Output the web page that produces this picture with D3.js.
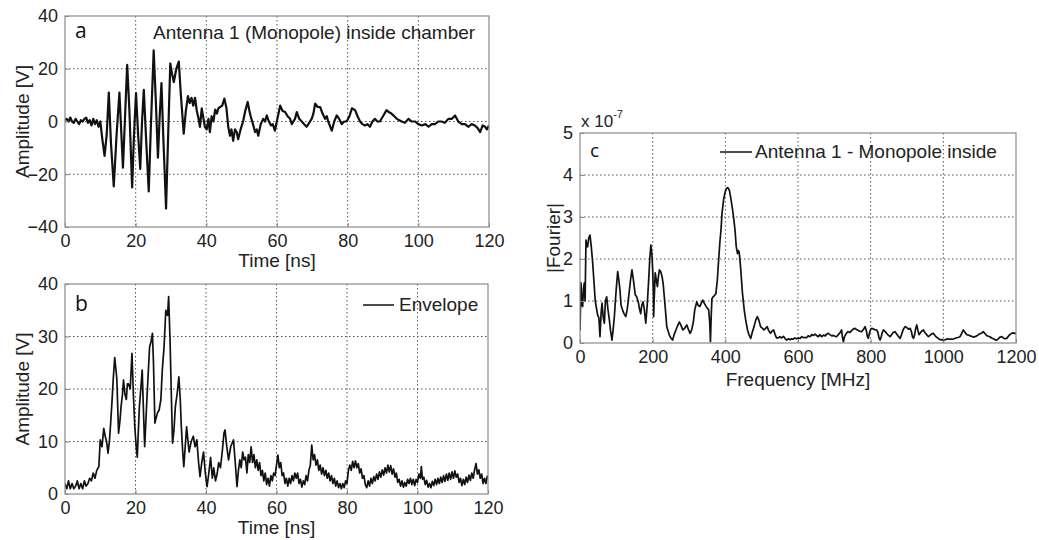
<!DOCTYPE html>
<html>
<head>
<meta charset="utf-8">
<script src="https://cdn.jsdelivr.net/npm/d3@7"></script>
<style>
body { margin: 0; background: #fff; }
svg { display: block; font-family: Arial, "Liberation Sans", sans-serif; }
</style>
</head>
<body>
<svg width="1039" height="540"></svg>
<script>
// ---- panel a : raw signal (time in ns, amplitude in V)
const timeA = [0,0.5,1,1.5,2,2.5,3,3.5,4,4.5,5,5.5,6,6.5,7,7.5,8,8.5,9,9.5,10,10.5,11.2,11.8,12.4,13,13.8,14.6,15.4,16.4,17,17.6,18.2,19,19.5,20.1,20.7,21.3,21.8,22.3,23,23.7,24.3,25.1,25.7,26.3,26.8,27.3,27.8,28.6,29.2,29.8,30.3,30.8,31.5,32.2,32.8,33.6,34.2,34.8,35.3,35.8,36.3,36.8,37.3,37.7,38.2,38.7,39.2,39.6,40.1,40.6,41,41.5,42,42.5,43,43.4,43.9,44.5,45.1,45.7,46.2,46.7,47.1,47.6,48.1,48.6,49,49.7,50.4,51,51.7,52.2,52.6,53.2,53.8,54.3,54.7,55.4,56.1,56.6,57.1,57.7,58.3,58.8,59.4,60.1,60.9,61.6,62.3,63,63.7,64.2,64.6,65.1,65.6,66.3,67,67.7,68.4,69.1,69.8,70.3,70.8,71.5,72.2,72.9,73.6,74.1,74.5,75.5,76.2,76.9,77.6,78.3,79,79.7,80.5,81.2,82.1,82.8,83.5,84.2,84.9,85.6,86.3,87,87.7,88.4,89.1,90,91,91.7,92.4,93.2,93.9,94.6,95.3,96.2,97.2,98.1,99.1,100,101,102,102.9,103.8,104.7,105.6,106.6,107.5,108.5,109.5,110.4,111.3,112.3,113.2,114.2,115.1,116,116.8,117.5,118.2,118.9,119.4,120];
const ampA = [0.5,1,0,1.5,0,-0.5,1,0,-1,0.5,0,1,1.5,-0.5,0.5,-1.5,1,-1,0.5,-2,0,-6,-13,-5,11,-8,-24.6,-5,11,-17.5,2,21.5,5,-25,-6,10.8,-5,-18,0,12,-8,-26.5,-2,27,8,-13.7,2,14.6,-5,-33,-5,22,18,15,20,22.7,10,-4.6,4,9.6,7,9,6,9,4,1.7,-2,5,1,-2,-3,1,-4,2,0,4.5,3,5,5.5,6,8.7,5,-2,-5.4,-3,-7.3,-3,-4,-6.7,-3,0,4,7.4,4,1.7,-1,-4,-3,-5.4,-1,1,0,2.3,0,-1.5,-1,-3.5,1,6,4,3.6,2,1,-1,0,1,3.6,1,0,-1,-2,-0.5,1,3,6.8,5.5,5.5,3,1,2,0,-3.5,0,2.3,1,-1,0,0,2,5,4.3,2,0,-1,-1.5,-1,-2,0,1,0,0,2,4.3,3.5,3,2,1,0.5,0,-0.5,1,0,0,-1,-1.5,-1,-2,-1,-1,0,0,-0.5,1,1,2.3,0,-1,-1,-2,-1,-1.5,-2.5,-4,-1.5,-2,-3,-1.5];

// ---- panel b : envelope
const timeB = [0,0.5,1,1.5,2,2.5,3,3.5,4,4.5,5,5.5,6,6.5,7,7.5,8,8.5,9,9.6,10,10.5,11,11.4,11.8,12.2,12.6,13,13.3,13.7,14.1,14.7,15.2,15.6,15.9,16.3,16.6,17,17.4,17.7,18,18.5,19,19.4,19.8,20.2,20.5,21.1,21.5,21.9,22.3,22.6,23.3,24,24.4,24.8,25.1,25.5,26.2,26.7,27.2,27.6,28.1,28.6,29.1,29.4,29.8,30.2,30.5,30.9,31.3,31.8,32.3,32.7,33,33.4,33.7,34.1,34.5,34.9,35.2,35.8,36.4,36.9,37.4,37.9,38.3,38.8,39.3,39.8,40.3,40.8,41.3,41.8,42.2,42.7,43.2,43.6,44.1,44.6,45.1,45.4,45.9,46.4,47,47.8,48.3,
    48.8,49.2,49.6,50,50.4,50.8,51.2,51.6,52,52.4,52.8,53.2,53.6,54,54.4,54.8,55.2,55.6,56,56.4,56.8,57.2,57.6,58,58.4,58.8,59.2,59.6,60,60.4,60.8,61.2,61.6,62,62.4,62.8,63.2,63.6,64,64.4,64.8,65.2,65.6,66,66.4,66.8,67.2,67.6,68,68.4,68.8,69.2,69.6,70,70.4,70.8,71.2,71.6,72,72.4,72.8,73.2,73.6,74,74.4,74.8,75.2,75.6,76,76.4,76.8,77.2,77.6,78,78.4,78.8,79.2,79.6,80,80.4,80.8,81.2,81.6,82,82.4,82.8,83.2,83.6,84,84.4,84.8,85.2,85.6,86,86.4,86.8,87.2,87.6,88,88.4,88.8,89.2,89.6,90,90.4,90.8,91.2,91.6,92,92.4,92.8,93.2,93.6,94,94.4,94.8,95.2,95.6,96,96.4,96.8,97.2,97.6,98,98.4,98.8,99.2,99.6,100,100.4,100.8,101.1,101.4,101.8,102.2,102.6,103,103.4,103.8,104.2,104.6,105,105.4,105.8,106.2,106.6,107,107.4,107.8,108.2,108.6,109,109.4,109.8,110.2,110.6,111,111.4,111.8,112.2,112.6,113,113.4,113.8,114.2,114.6,115,115.4,115.8,116.2,116.6,117,117.4,117.8,118.2,118.6,119,119.4,119.8,120];
const ampB = [2,1,2.5,1,2,1,1.5,2.5,1,2,1,2.5,1.5,2,3,2.5,4,3,4.5,5.2,10.3,9,12.5,11,10,7.8,10,14,17.3,22,26,22,11.6,14,16.6,19,21.7,19,18,21,21,20,26.8,19,12.8,9,7,16.6,20,23.6,15,9,19,28,29,30.6,25,13.5,15.4,16,18,23.6,28,35,34,37.6,29.3,18,9.7,12,16.6,19,22.3,18,12.8,8,5.2,9,12.8,10,8,10,11,9,10.3,6,3.3,6,8,4,1.4,4,7,3,5,2.5,4,6,5,8,11.6,12.2,9,6.5,9,10.3,6,
    1.4,4.5,6.5,5,8,6.5,7,4,7.5,6,9,6,7.5,5,6.5,4.5,6,3.5,4.5,2.5,4,1.8,3,1.5,3.5,2.5,4,3.5,5.5,7.4,5,6,3.5,4,2,3,1.5,3,2,3.5,2.5,4,3,4,2,2.8,1.3,2.5,1.8,3.5,2.5,4.5,5.5,9.3,6.5,7.5,5.5,6.5,4.5,5.5,3.8,5,3.5,4.5,3,4,2.5,3.5,2,3,1.5,2.5,1.2,2,1,2,1.2,2.5,2,4.5,5.5,4.5,6.2,5,6.3,5,5.8,4,4.8,3,3.5,1.8,1.2,2.5,1.5,3,2,3.3,2.5,3.8,2.8,4.2,3.2,4.6,3.6,5,4,5.5,4.2,5.4,3.8,4.8,3.2,4,2.2,2.8,1.5,2.5,1.3,2.2,1.5,2.8,2,3,1.8,2.8,1.6,2.8,2.2,3.8,3,5.2,2.8,3.2,1.8,2.6,1.3,2,1.2,2.4,1.6,2.8,1.8,3,2,3.2,2.2,3.5,2.4,3.8,2.6,4,2.8,4.2,3,4.4,3.2,3.8,2.2,3,1.6,2.8,1.8,3.2,2.2,3.6,2.6,4,3,4.6,5.8,3.8,4.6,3,3.8,2,3,2,3.4,2.8];

// ---- panel c : spectrum (frequency in MHz, |Fourier| in units of 1e-7)
const freqC = [0,2.8,5,7.3,9.5,11.9,14,16.5,19,21,24,27.5,31,35,42,48.5,52,55,58,60.6,64,67,70,73.4,77,80.7,84,88,91,94.6,99,103.7,107,110,113,117,121,126,130,135,139,143,147,152,156,161,164,167,170,173.5,177,181,185,189,192,195,198,200,202,202.7,204,207,210,213,216,218.5,222,226,229,232,235,238.8,242,246,250,255,259,264,268,273.5,278,283,288,294,298,303,307,312,316,321.5,325,330,334,338,342,347,351,354,357,359,361,363,366,370,374,378,381.5,385,388,391,395,399,403,407,411,415,420,424,427,430,433.5,436,438,440,442.5,447,452,456,461,465,470,474,479,484,488,492,497,502,506,511,515,519,524,528,533,537,541,546,550,555,560,565,569,574,578,582,587,591,596,601,606,610,615,619,624,628,633,638,642,647,651,656,660,665,670,675,679,683.5,688,693,697,702,706,711,716,720,722,725,728,733,738,743,748,752,757,761,766,770,775,780,784.5,788,791,793.5,797,800,803,808,812,816.5,820,823,826,829,832,835,840,845,849,853.5,858,862,867,871,876,881,885,890,895,899,904,908.5,912,915,918,921,924,927,930,933,936,940,945,949,954,959,963,968,972.5,977,981,986,990,995,1000,1006,1012,1018,1023,1029,1035,1040,1046,1050,1055,1060,1064,1069,1074,1078,1082,1087,1092,1097,1101,1106,1110,1115,1119,1124,1128,1133,1138,1142,1147,1151,1156,1161,1165,1170,1174.5,1179,1183,1188,1192,1197,1200];
const fourierC = [0.3,1.43,0.9,0.87,1.3,1.43,1.0,2.45,2.3,2.29,2.5,2.57,2.3,1.9,1.0,0.67,0.6,0.15,0.7,0.95,0.6,0.47,1.0,1.1,0.8,0.55,0.3,0.07,0.3,0.63,1.2,1.7,1.5,1.26,0.9,0.79,0.7,0.63,0.8,1.18,1.5,1.74,1.5,1.15,1.1,0.95,0.8,0.7,0.9,0.98,0.8,0.47,0.9,1.5,2.0,2.33,2.1,1.74,1.2,0.63,1.0,1.67,1.5,1.34,1.6,1.74,1.7,1.58,1.4,1.1,0.8,0.39,0.3,0.19,0.12,0.07,0.2,0.31,0.4,0.5,0.42,0.31,0.35,0.43,0.33,0.23,0.3,0.5,0.8,0.98,0.9,0.87,0.95,1.02,0.95,0.87,0.82,0.8,0.5,0.03,0.6,1.05,1.1,1.13,1.18,1.5,1.97,2.4,2.69,3.1,3.4,3.58,3.68,3.7,3.64,3.45,3.17,2.9,2.65,2.3,2.13,2.2,2.17,2.0,1.74,1.2,0.79,0.55,0.31,0.2,0.11,0.25,0.39,0.55,0.63,0.55,0.39,0.35,0.31,0.35,0.39,0.3,0.23,0.28,0.31,0.2,0.12,0.12,0.15,0.12,0.16,0.1,0.07,0.1,0.08,0.1,0.09,0.12,0.1,0.12,0.11,0.15,0.13,0.13,0.13,0.17,0.15,0.2,0.18,0.21,0.18,0.15,0.2,0.15,0.19,0.17,0.21,0.23,0.2,0.17,0.18,0.16,0.15,0.2,0.25,0.31,0.15,0.03,0.15,0.23,0.27,0.25,0.3,0.33,0.35,0.32,0.3,0.28,0.27,0.32,0.39,0.3,0.15,0.11,0.25,0.33,0.35,0.33,0.32,0.31,0.25,0.12,0.07,0.15,0.25,0.31,0.27,0.22,0.18,0.15,0.2,0.25,0.27,0.22,0.16,0.11,0.2,0.33,0.39,0.37,0.33,0.35,0.28,0.15,0.11,0.2,0.35,0.43,0.3,0.2,0.23,0.28,0.31,0.25,0.2,0.15,0.18,0.22,0.23,0.18,0.14,0.11,0.08,0.08,0.07,0.08,0.1,0.09,0.09,0.1,0.12,0.13,0.15,0.22,0.31,0.25,0.2,0.19,0.17,0.16,0.14,0.15,0.17,0.2,0.22,0.24,0.27,0.22,0.18,0.16,0.15,0.12,0.1,0.08,0.07,0.1,0.14,0.15,0.12,0.1,0.11,0.16,0.2,0.23,0.24,0.23,0.23];

// ticks
const timeTicks = [0, 20, 40, 60, 80, 100, 120];
const ampTicksA = [-40, -20, 0, 20, 40];
const ampTicksB = [0, 10, 20, 30, 40];
const freqTicks = [0, 200, 400, 600, 800, 1000, 1200];
const fourierTicks = [0, 1, 2, 3, 4, 5];

const svg = d3.select("svg");

function drawPanel(o) {
    const x = d3.scaleLinear().domain(o.xDomain).range([o.left, o.right]);
    const y = d3.scaleLinear().domain(o.yDomain).range([o.bottom, o.top]);
    const w = o.right - o.left, h = o.bottom - o.top;
    const g = svg.append("g");

    // dotted grid (skip the ticks that sit on the frame)
    g.selectAll(".gx").data(o.xTicks.slice(1, -1)).join("line")
        .attr("x1", d => x(d)).attr("x2", d => x(d))
        .attr("y1", o.top).attr("y2", o.bottom)
        .attr("stroke", "#555").attr("stroke-width", 1).attr("stroke-dasharray", "1.5,2.5");
    g.selectAll(".gy").data(o.yTicks.slice(1, -1)).join("line")
        .attr("y1", d => y(d)).attr("y2", d => y(d))
        .attr("x1", o.left).attr("x2", o.right)
        .attr("stroke", "#555").attr("stroke-width", 1).attr("stroke-dasharray", "1.5,2.5");

    // the curve
    const clipId = "clip" + o.name;
    g.append("clipPath").attr("id", clipId).append("rect")
        .attr("x", o.left).attr("y", o.top - 2).attr("width", w).attr("height", h + 4);
    const line = d3.line().x(d => x(d[0])).y(d => y(d[1]));
    g.append("path")
        .datum(d3.zip(o.xs, o.ys))
        .attr("clip-path", `url(#${clipId})`)
        .attr("fill", "none").attr("stroke", "#111")
        .attr("stroke-width", o.lw).attr("stroke-linejoin", "round")
        .attr("d", line);

    // frame
    g.append("rect").attr("x", o.left).attr("y", o.top).attr("width", w).attr("height", h)
        .attr("fill", "none").attr("stroke", "#8a8a8a").attr("stroke-width", 1.2);

    // axes: inward ticks + labels
    const ax = g.append("g").attr("transform", `translate(0,${o.bottom})`)
        .call(d3.axisBottom(x).tickValues(o.xTicks).tickFormat(d3.format("d"))
            .tickSizeInner(-4).tickSizeOuter(0).tickPadding(7));
    const ay = g.append("g").attr("transform", `translate(${o.left},0)`)
        .call(d3.axisLeft(y).tickValues(o.yTicks).tickFormat(d3.format("d"))
            .tickSizeInner(-4).tickSizeOuter(0).tickPadding(7));
    [ax, ay].forEach(a => {
        a.select(".domain").remove();
        a.selectAll("line").attr("stroke", "#8a8a8a");
        a.selectAll("text").attr("font-size", 18).attr("fill", "#222")
            .attr("font-family", "Arial, 'Liberation Sans', sans-serif");
    });

    // axis titles
    g.append("text").attr("x", (o.left + o.right) / 2).attr("y", o.bottom + o.xLabelDy)
        .attr("text-anchor", "middle").attr("font-size", 19).attr("fill", "#222").text(o.xLabel);
    g.append("text")
        .attr("transform", `translate(${o.yLabelX},${(o.top + o.bottom) / 2}) rotate(-90)`)
        .attr("text-anchor", "middle").attr("font-size", 19).attr("fill", "#222").text(o.yLabel);

    // panel letter
    g.append("text").attr("x", o.left + o.letterDx).attr("y", o.top + o.letterDy)
        .attr("font-family", "'Open Sans', 'DejaVu Sans', sans-serif")
        .attr("font-size", o.letterSize).attr("fill", "#111").text(o.name);

    // legend
    if (o.legendLine) {
        g.append("line").attr("x1", o.legendLine[0]).attr("x2", o.legendLine[1])
            .attr("y1", o.legendY - 6).attr("y2", o.legendY - 6)
            .attr("stroke", "#111").attr("stroke-width", 1.5);
    }
    g.append("text").attr("x", o.legendX).attr("y", o.legendY)
        .attr("font-size", 19).attr("fill", "#222").text(o.legendText);
    return g;
}

drawPanel({
    name: "a", xs: timeA, ys: ampA, lw: 2.2,
    left: 65, right: 489, top: 16, bottom: 227,
    xDomain: [0, 120], yDomain: [-40, 40], xTicks: timeTicks, yTicks: ampTicksA,
    xLabel: "Time [ns]", yLabel: "Amplitude [V]", xLabelDy: 40, yLabelX: 29,
    letterDx: 10, letterDy: 22, letterSize: 21,
    legendText: "Antenna 1 (Monopole) inside chamber", legendX: 153, legendY: 39
});

drawPanel({
    name: "b", xs: timeB, ys: ampB, lw: 1.7,
    left: 65, right: 488, top: 284, bottom: 494,
    xDomain: [0, 120], yDomain: [0, 40], xTicks: timeTicks, yTicks: ampTicksB,
    xLabel: "Time [ns]", yLabel: "Amplitude [V]", xLabelDy: 40, yLabelX: 29,
    letterDx: 10, letterDy: 27, letterSize: 21,
    legendText: "Envelope", legendX: 399, legendY: 311, legendLine: [363, 394]
});

const gc = drawPanel({
    name: "c", xs: freqC, ys: fourierC, lw: 1.7,
    left: 580, right: 1016, top: 133, bottom: 343,
    xDomain: [0, 1200], yDomain: [0, 5], xTicks: freqTicks, yTicks: fourierTicks,
    xLabel: "Frequency [MHz]", yLabel: "|Fourier|", xLabelDy: 43, yLabelX: 560,
    letterDx: 10, letterDy: 24, letterSize: 19,
    legendText: "Antenna 1 - Monopole inside", legendX: 755, legendY: 158, legendLine: [720, 752]
});

// exponent label of panel c
const expo = gc.append("text").attr("x", 581).attr("y", 127).attr("font-size", 17).attr("fill", "#222");
expo.append("tspan").text("x 10");
expo.append("tspan").attr("dy", -9).attr("font-size", 11).text("-7");
</script>
</body>
</html>
